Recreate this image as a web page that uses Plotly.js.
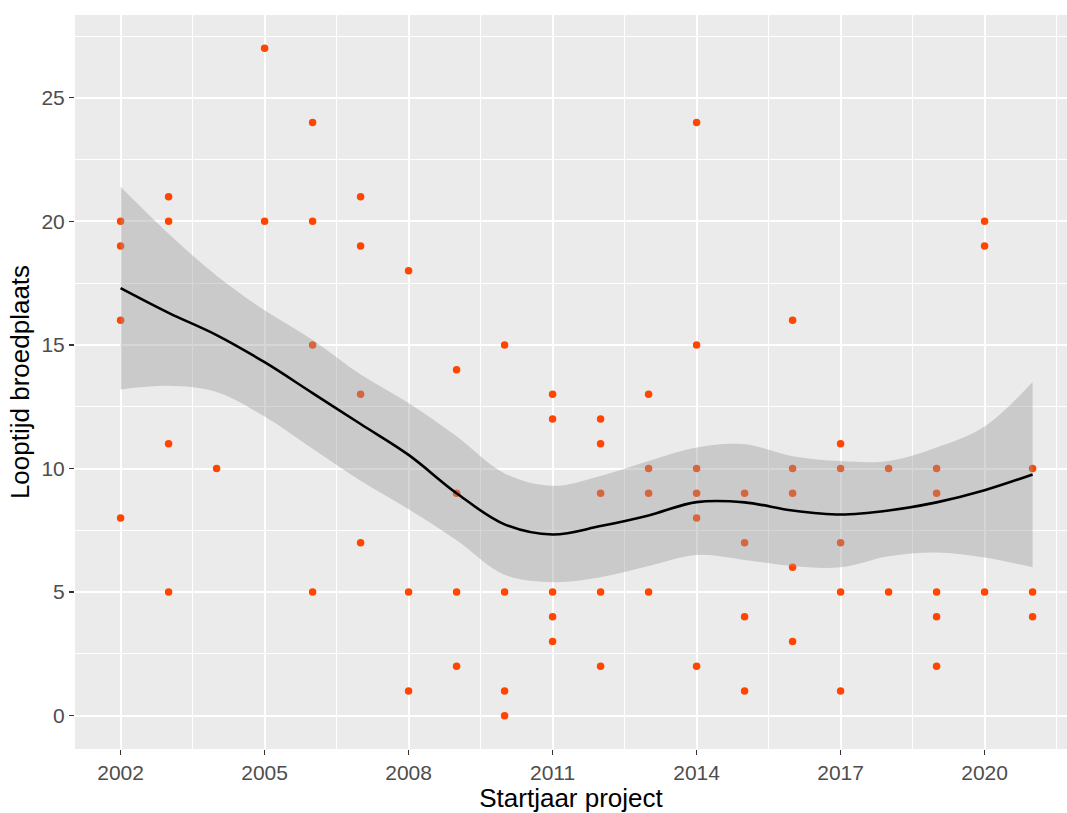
<!DOCTYPE html>
<html>
<head>
<meta charset="utf-8">
<script src="https://cdn.plot.ly/plotly-3.0.1.min.js"></script>
<style>
  html, body { margin: 0; padding: 0; background: #ffffff; }
  #chart { width: 1067px; height: 813px; }
</style>
</head>
<body>
<div id="chart"></div>
<script>
// Observed projects: start year and duration (Looptijd broedplaats)
const pointYears = [
  2002, 2002, 2002, 2002,
  2003, 2003, 2003, 2003,
  2004,
  2005, 2005,
  2006, 2006, 2006, 2006,
  2007, 2007, 2007, 2007,
  2008, 2008, 2008,
  2009, 2009, 2009, 2009,
  2010, 2010, 2010, 2010,
  2011, 2011, 2011, 2011, 2011,
  2012, 2012, 2012, 2012, 2012,
  2013, 2013, 2013, 2013,
  2014, 2014, 2014, 2014, 2014, 2014,
  2015, 2015, 2015, 2015,
  2016, 2016, 2016, 2016, 2016,
  2017, 2017, 2017, 2017, 2017,
  2018, 2018,
  2019, 2019, 2019, 2019, 2019,
  2020, 2020, 2020,
  2021, 2021, 2021
];
const looptijd = [
  20, 19, 16, 8,
  21, 20, 11, 5,
  10,
  27, 20,
  24, 20, 15, 5,
  21, 19, 13, 7,
  18, 5, 1,
  14, 9, 5, 2,
  15, 5, 1, 0,
  13, 12, 5, 4, 3,
  12, 11, 9, 5, 2,
  13, 10, 9, 5,
  24, 15, 10, 9, 8, 2,
  9, 7, 4, 1,
  16, 10, 9, 6, 3,
  11, 10, 7, 5, 1,
  10, 5,
  10, 9, 5, 4, 2,
  20, 19, 5,
  10, 5, 4
];

// Smoothed trend (loess) and its confidence band
const smoothYears = [2002, 2003, 2004, 2005, 2006, 2007, 2008, 2009, 2010, 2011,
                     2012, 2013, 2014, 2015, 2016, 2017, 2018, 2019, 2020, 2021];
const smoothFit   = [17.3, 16.3, 15.4, 14.3, 13.05, 11.8, 10.55, 9.0, 7.74, 7.33,
                     7.67, 8.1, 8.64, 8.63, 8.3, 8.14, 8.3, 8.63, 9.12, 9.76];
const smoothUpper = [21.4, 19.5, 17.8, 16.4, 15.2, 13.8, 12.65, 11.3, 9.8, 9.3,
                     9.7, 10.3, 10.85, 10.98, 10.5, 10.3, 10.3, 10.85, 11.7, 13.5];
const smoothLower = [13.2, 13.35, 13.1, 12.1, 10.8, 9.5, 8.35, 7.1, 5.7, 5.4,
                     5.6, 6.05, 6.5, 6.3, 6.05, 6.0, 6.45, 6.6, 6.4, 6.0];

const xTickVals = [2002, 2005, 2008, 2011, 2014, 2017, 2020];
const yTickVals = [0, 5, 10, 15, 20, 25];

const FONT = '"Liberation Sans", Arial, sans-serif';

const traces = [
  {
    x: pointYears, y: looptijd, type: 'scatter', mode: 'markers',
    marker: { color: '#FF4500', size: 7.5, line: { width: 0 } },
    hoverinfo: 'skip', showlegend: false
  },
  {
    x: smoothYears, y: smoothUpper, type: 'scatter', mode: 'lines',
    line: { width: 0, shape: 'spline', color: 'rgba(0,0,0,0)' },
    hoverinfo: 'skip', showlegend: false
  },
  {
    x: smoothYears, y: smoothLower, type: 'scatter', mode: 'lines',
    line: { width: 0, shape: 'spline', color: 'rgba(0,0,0,0)' },
    fill: 'tonexty', fillcolor: 'rgba(153,153,153,0.4)',
    hoverinfo: 'skip', showlegend: false
  },
  {
    x: smoothYears, y: smoothFit, type: 'scatter', mode: 'lines',
    line: { width: 2.6, shape: 'spline', color: '#000000' },
    hoverinfo: 'skip', showlegend: false
  }
];

const layout = {
  width: 1067, height: 813,
  margin: { l: 75, r: 0, t: 15, b: 64 },
  paper_bgcolor: '#FFFFFF',
  plot_bgcolor: '#EBEBEB',
  font: { family: FONT, color: '#4D4D4D' },
  showlegend: false,
  xaxis: {
    range: [2001.05, 2021.717],
    tickmode: 'array', tickvals: xTickVals,
    ticktext: xTickVals.map(String),
    ticks: 'outside', ticklen: 5, tickwidth: 1.3, tickcolor: '#333333',
    tickfont: { size: 21, color: '#4D4D4D', family: FONT },
    showgrid: true, gridcolor: '#FFFFFF', gridwidth: 2,
    minor: { tickmode: 'linear', tick0: 2002, dtick: 1.5, showgrid: true, gridcolor: '#FFFFFF', gridwidth: 1, ticks: '' },
    zeroline: false, showline: false,
    title: { text: 'Startjaar project', font: { size: 26, color: '#000000', family: FONT }, standoff: 8 },
    automargin: false
  },
  yaxis: {
    range: [-1.35, 28.35],
    tickmode: 'array', tickvals: yTickVals,
    ticktext: yTickVals.map(String),
    ticks: 'outside', ticklen: 5, tickwidth: 1.3, tickcolor: '#333333',
    tickfont: { size: 21, color: '#4D4D4D', family: FONT },
    showgrid: true, gridcolor: '#FFFFFF', gridwidth: 2,
    minor: { tickmode: 'linear', tick0: 0, dtick: 2.5, showgrid: true, gridcolor: '#FFFFFF', gridwidth: 1, ticks: '' },
    zeroline: false, showline: false,
    title: { text: 'Looptijd broedplaats', font: { size: 26, color: '#000000', family: FONT }, standoff: 4 },
    automargin: false
  }
};

Plotly.newPlot('chart', traces, layout, { displayModeBar: false, staticPlot: true });
</script>
</body>
</html>
